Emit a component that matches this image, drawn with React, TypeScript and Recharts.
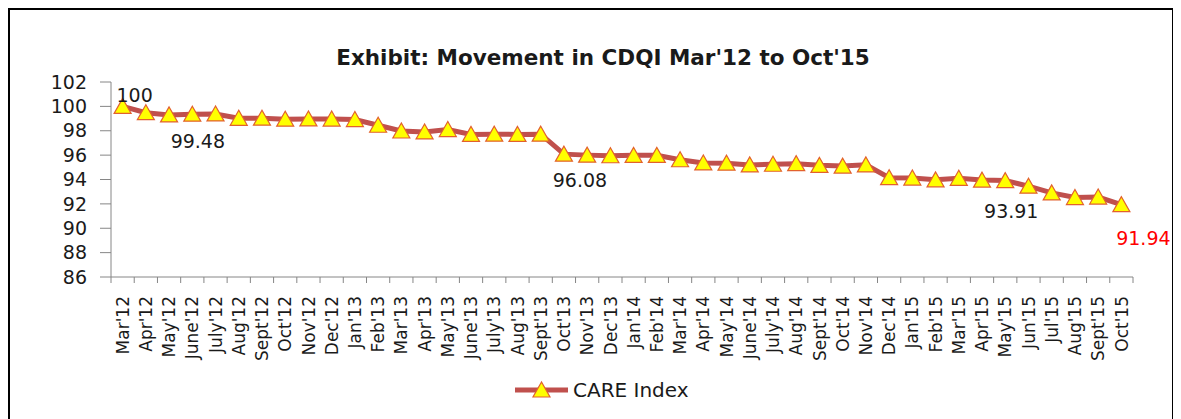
import { LineChart, Line, XAxis, YAxis, Legend, LabelList } from "recharts";

const months = [
  "Mar'12", "Apr'12", "May'12", "June'12", "July'12", "Aug'12", "Sept'12", "Oct'12", "Nov'12", "Dec'12",
  "Jan'13", "Feb'13", "Mar'13", "Apr'13", "May'13", "June'13", "July'13", "Aug'13", "Sept'13", "Oct'13",
  "Nov'13", "Dec'13", "Jan'14", "Feb'14", "Mar'14", "Apr'14", "May'14", "June'14", "July'14", "Aug'14",
  "Sept'14", "Oct'14", "Nov'14", "Dec'14", "Jan'15", "Feb'15", "Mar'15", "Apr'15", "May'15", "Jun'15",
  "Jul'15", "Aug'15", "Sept'15", "Oct'15",
];

const careIndex = [
  100, 99.48, 99.3, 99.36, 99.38, 99.02, 99.03, 98.95, 98.97, 98.96,
  98.92, 98.45, 97.98, 97.9, 98.1, 97.7, 97.72, 97.7, 97.72, 96.08,
  96.0, 95.95, 95.98, 95.98, 95.62, 95.36, 95.34, 95.2, 95.25, 95.3,
  95.16, 95.1, 95.2, 94.15, 94.12, 93.97, 94.1, 93.95, 93.91, 93.45,
  92.9, 92.52, 92.56, 91.94,
];

const yTicks = [86, 88, 90, 92, 94, 96, 98, 100, 102];

// points that carry a data label in the original
const labelledPoints = [0, 1, 19, 38, 43];

const data = months.map((month, i) => ({ month, value: careIndex[i] }));

const FONT = "'DejaVu Sans', sans-serif";
const TEXT = "#1a1a1a";
const LINE_COLOR = "#C0504D";
const MARKER_FILL = "#FFFF00";
const MARKER_STROKE = "#E2612E";
const AXIS_COLOR = "#868686";

const CHART_W = 1162;
const CHART_H = 409;
const MARGIN = { top: 72, right: 39, bottom: 42, left: 0 };
const Y_AXIS_W = 101;
const X_AXIS_H = 100;
const PLOT_W = CHART_W - MARGIN.left - MARGIN.right - Y_AXIS_W;
const STEP = PLOT_W / months.length;
const AXIS_Y = CHART_H - MARGIN.bottom - X_AXIS_H;

// where each data label sits relative to its point
const labelPlacement: Record<number, { dx: number; dy: number; color: string }> = {
  0: { dx: 12, dy: -4, color: TEXT },
  1: { dx: 52, dy: 35, color: TEXT },
  19: { dx: 16, dy: 33, color: TEXT },
  38: { dx: 6, dy: 37, color: TEXT },
  43: { dx: 22, dy: 40, color: "#FF0000" },
};

function Triangle({ cx, cy }: { cx: number; cy: number }) {
  const pts = `${cx},${cy - 8} ${cx - 8.5},${cy + 7} ${cx + 8.5},${cy + 7}`;
  return <polygon points={pts} fill={MARKER_FILL} stroke={MARKER_STROKE} strokeWidth={1.2} />;
}

function renderDot(props: any) {
  const { cx, cy, index } = props;
  return <Triangle key={`dot-${index}`} cx={cx} cy={cy} />;
}

function MonthTick(props: any) {
  const { x, payload, index } = props;
  const half = STEP / 2;
  const last = index === months.length - 1;
  return (
    <g>
      <line x1={x - half} x2={x - half} y1={AXIS_Y} y2={AXIS_Y + 6} stroke={AXIS_COLOR} />
      {last && <line x1={x + half} x2={x + half} y1={AXIS_Y} y2={AXIS_Y + 6} stroke={AXIS_COLOR} />}
      <text
        transform={`translate(${x},${AXIS_Y + 19}) rotate(-90)`}
        textAnchor="end"
        dy="0.36em"
        fontSize={17}
        fontFamily={FONT}
        fill={TEXT}
      >
        {payload.value}
      </text>
    </g>
  );
}

function PointLabel(props: any) {
  const { index, value } = props;
  if (!labelledPoints.includes(index)) return null;
  const px = props.x ?? props.viewBox?.x;
  const py = props.y ?? props.viewBox?.y;
  const place = labelPlacement[index];
  return (
    <text
      x={px + place.dx}
      y={py + place.dy}
      textAnchor="middle"
      fontSize={19}
      fontFamily={FONT}
      fill={place.color}
    >
      {value}
    </text>
  );
}

function LegendBox() {
  return (
    <svg width={200} height={30}>
      <line x1={0} x2={53} y1={15} y2={15} stroke={LINE_COLOR} strokeWidth={5} />
      <Triangle cx={26.5} cy={15} />
      <text x={58} y={22} fontSize={20} fontFamily={FONT} fill={TEXT}>
        CARE Index
      </text>
    </svg>
  );
}

export default function App() {
  return (
    <div
      style={{
        position: "relative",
        width: CHART_W,
        height: CHART_H,
        borderTop: "2px solid #000",
        borderLeft: "2px solid #000",
        borderRight: "2px solid #000",
        background: "#fff",
      }}
    >
      <LineChart width={CHART_W} height={CHART_H} data={data} margin={MARGIN}>
        <XAxis
          dataKey="month"
          height={X_AXIS_H}
          interval={0}
          padding={{ left: STEP / 2, right: STEP / 2 }}
          axisLine={{ stroke: AXIS_COLOR }}
          tickLine={false}
          tick={<MonthTick />}
        />
        <YAxis
          width={Y_AXIS_W}
          domain={[86, 102]}
          ticks={yTicks}
          interval={0}
          tickSize={11}
          tickMargin={13}
          axisLine={{ stroke: AXIS_COLOR }}
          tickLine={{ stroke: AXIS_COLOR }}
          tick={{ fontSize: 19, fontFamily: FONT, fill: TEXT }}
        />
        <Legend
          layout="horizontal"
          verticalAlign="middle"
          align="center"
          content={<LegendBox />}
          wrapperStyle={{ left: 505, top: 365, width: 200, height: 30 }}
        />
        <Line
          type="linear"
          dataKey="value"
          name="CARE Index"
          stroke={LINE_COLOR}
          strokeWidth={5}
          dot={renderDot}
          activeDot={false}
          isAnimationActive={false}
        >
          <LabelList dataKey="value" content={<PointLabel />} />
        </Line>
      </LineChart>
      <svg
        width={CHART_W}
        height={80}
        style={{ position: "absolute", left: 0, top: 0, pointerEvents: "none" }}
      >
        <text x={593} y={55} textAnchor="middle" fontSize={21.5} fontWeight="bold" fontFamily={FONT} fill={TEXT}>
          Exhibit: Movement in CDQI Mar'12 to Oct'15
        </text>
      </svg>
    </div>
  );
}
